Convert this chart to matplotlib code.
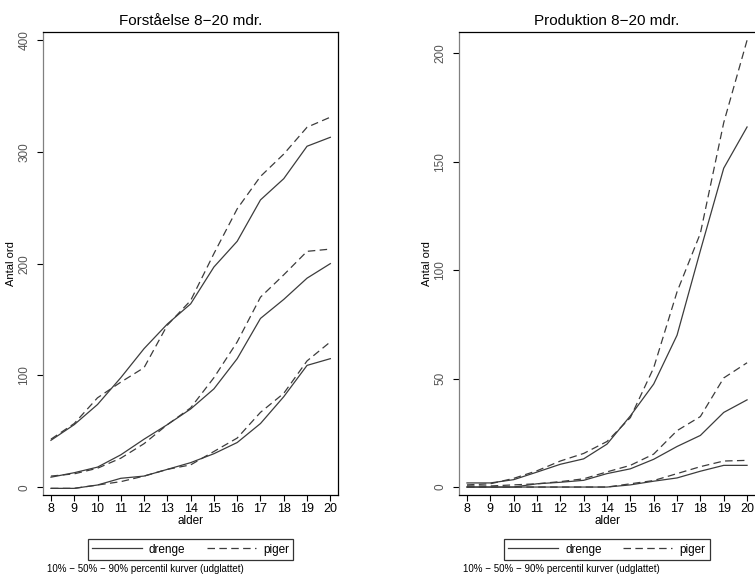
import matplotlib
matplotlib.use("Agg")
import matplotlib.pyplot as plt

plt.rcParams["font.family"] = ["Liberation Sans", "DejaVu Sans"]

alder = [8, 9, 10, 11, 12, 13, 14, 15, 16, 17, 18, 19, 20]

# Forståelse (comprehension) – 10/50/90 percentiles
forst_drenge_90 = [42, 56, 74, 98, 124, 146, 164, 197, 220, 257, 276, 305, 313]
forst_piger_90 = [43, 57, 80, 94, 107, 145, 167, 209, 249, 278, 298, 322, 331]
forst_drenge_50 = [9, 13, 18, 29, 43, 56, 70, 88, 115, 151, 168, 187, 200]
forst_piger_50 = [10, 12, 17, 26, 39, 56, 71, 98, 130, 170, 190, 211, 213]
forst_drenge_10 = [-1, -1, 2, 8, 10, 16, 22, 30, 40, 57, 81, 109, 115]
forst_piger_10 = [-1, -1, 2, 5, 10, 16, 20, 32, 44, 67, 84, 113, 130]

# Produktion (production)
prod_drenge_90 = [1.9, 1.9, 3.4, 6.9, 10.5, 13, 19.8, 32.8, 47.5, 70, 109, 147, 166]
prod_piger_90 = [1, 1.5, 4, 7.5, 12, 15.5, 21, 32, 55, 90, 117, 168, 206]
prod_drenge_50 = [0, 0, 0, 1.5, 2.2, 3.1, 6.2, 8.4, 12.8, 18.7, 23.8, 34.4, 40.2]
prod_piger_50 = [0.5, 0.5, 1, 1.5, 2.5, 3.8, 7, 10, 15.2, 26, 32.5, 50.3, 57.3]
prod_drenge_10 = [0, 0, 0, 0, 0, 0, 0, 1, 2.7, 4.2, 7.3, 10, 10]
prod_piger_10 = [0, 0, 0, 0, 0, 0, 0, 1.5, 3, 6.2, 9.4, 12, 12.3]

LINE_COL = "#3c3c3c"
DASH = (0, (6, 3.5))
FOOT = "10% \u2212 50% \u2212 90% percentil kurver (udglattet)"

fig = plt.figure(figsize=(7.55, 5.75), dpi=100)
ax1 = fig.add_axes([0.057, 0.139, 0.391, 0.805])
ax2 = fig.add_axes([0.608, 0.139, 0.392, 0.805])


def draw(ax, boys, girls, title, ylim, yticks):
    for i, (b, g) in enumerate(zip(boys, girls)):
        ax.plot(alder, b, color=LINE_COL, lw=0.9, ls="-",
                label="drenge" if i == 0 else None)
        ax.plot(alder, g, color=LINE_COL, lw=0.9, ls=DASH,
                label="piger" if i == 0 else None)
    ax.set_xlim(7.66, 20.34)
    ax.set_ylim(*ylim)
    ax.set_xticks(alder)
    ax.set_yticks(yticks)
    ax.set_yticklabels([str(t) for t in yticks], rotation=90, va="center",
                       color="#555555")
    ax.tick_params(axis="y", length=4, width=0.8, pad=5, labelsize=8.5)
    ax.tick_params(axis="x", length=4, width=0.8, pad=2, labelsize=9)
    ax.set_title(title, fontsize=11, pad=5)
    ax.set_xlabel("alder", fontsize=8.5, labelpad=0)
    ax.set_ylabel("Antal ord", fontsize=8)
    ax.yaxis.set_label_coords(-0.093, 0.5)
    for s in ax.spines.values():
        s.set_linewidth(0.9)
    ax.spines["left"].set_color("#808080")
    leg = ax.legend(loc="upper center", bbox_to_anchor=(0.5, -0.083), ncol=2,
                    fontsize=8.5, frameon=True, fancybox=False,
                    handlelength=4.2, columnspacing=1.8, handletextpad=0.6,
                    borderpad=0.35, edgecolor="black")
    leg.get_frame().set_linewidth(0.9)


draw(ax1, [forst_drenge_90, forst_drenge_50, forst_drenge_10],
     [forst_piger_90, forst_piger_50, forst_piger_10],
     "Forståelse 8\u221220 mdr.", (-7, 407), [0, 100, 200, 300, 400])
draw(ax2, [prod_drenge_90, prod_drenge_50, prod_drenge_10],
     [prod_piger_90, prod_piger_50, prod_piger_10],
     "Produktion 8\u221220 mdr.", (-3.7, 209.7), [0, 50, 100, 150, 200])
ax2.spines["right"].set_visible(False)

fig.text(47 / 755, 1 - 569 / 575, FOOT, fontsize=7, va="center")
fig.text(463 / 755, 1 - 569 / 575, FOOT, fontsize=7, va="center")

fig.savefig("out.png", dpi=100)
